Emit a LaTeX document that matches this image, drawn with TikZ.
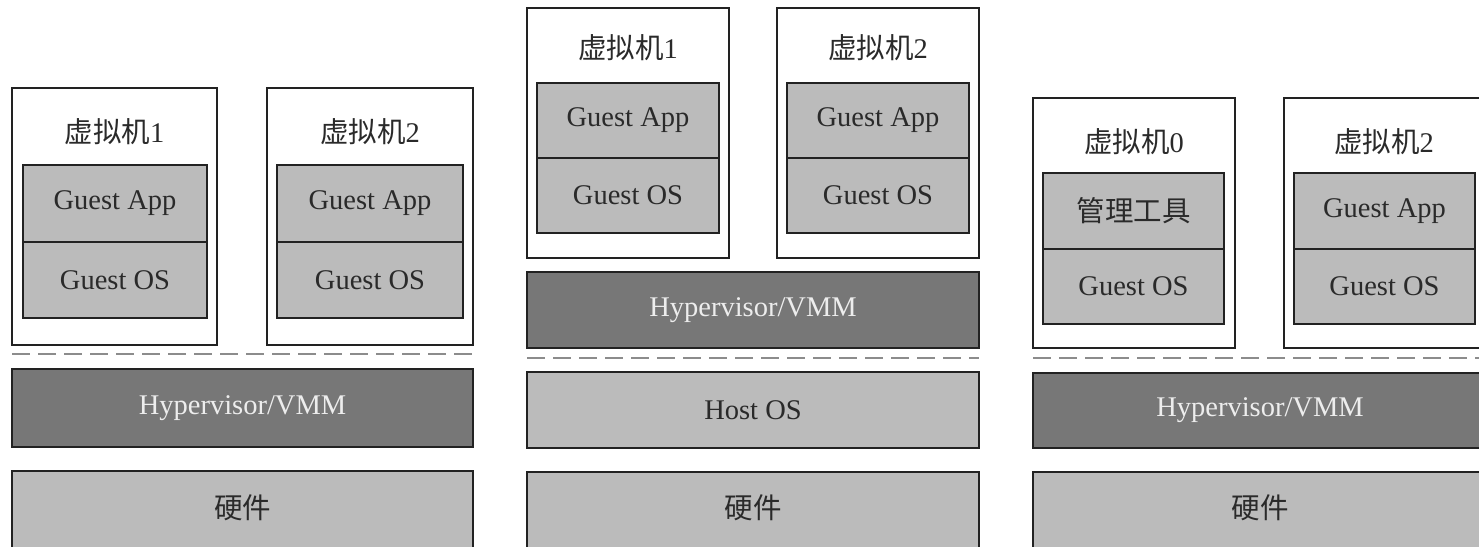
\documentclass[tikz,border=0pt]{standalone}
\usepackage{fontspec}
\setmainfont{Liberation Serif}
\newfontfamily\cjk{Noto Sans CJK SC}
\definecolor{lightbox}{HTML}{BBBBBB}
\definecolor{darkbox}{HTML}{777777}
\definecolor{edge}{HTML}{222222}
\definecolor{txt}{HTML}{2A2A2A}
\definecolor{dashcol}{HTML}{8C8C8C}
\begin{document}
\begin{tikzpicture}[x=1pt,y=-1pt,
  base/.style={anchor=north west,inner sep=0pt,outer sep=0pt,draw=edge,line width=2.2pt,
    font=\fontsize{28.5}{34}\selectfont,text=txt},
  vmbox/.style={base,fill=white},
  lightlayer/.style={base,fill=lightbox},
  darklayer/.style={base,fill=darkbox,text=white!93!black},
  vmlabel/.style={inner sep=0pt,font=\fontsize{28.5}{34}\selectfont,text=txt},
  sepline/.style={draw=dashcol,line width=2pt,dash pattern=on 18pt off 8pt}
]
\useasboundingbox (0,0) rectangle (1479,546);
\clip (0,0) rectangle (1479,546);
% ---------- Panel 1 ----------
\node[vmbox,minimum width=205pt,minimum height=257pt] (p1vm1) at (12,88) {};
\node[vmlabel] (p1l1) at (114.5,132) {{\cjk 虚拟机}1};
\node[lightlayer,minimum width=184pt,minimum height=77pt] (p1app1) at (23,165) {Guest App};
\node[lightlayer,minimum width=184pt,minimum height=76pt] (p1os1) at (23,242) {Guest OS};
\node[vmbox,minimum width=206pt,minimum height=257pt] (p1vm2) at (267,88) {};
\node[vmlabel] (p1l2) at (370,132) {{\cjk 虚拟机}2};
\node[lightlayer,minimum width=186pt,minimum height=77pt] (p1app2) at (277,165) {Guest App};
\node[lightlayer,minimum width=186pt,minimum height=76pt] (p1os2) at (277,242) {Guest OS};
\coordinate (p1da) at (12,354);
\coordinate (p1db) at (473,354);
\draw[sepline] (p1da) -- (p1db);
\node[darklayer,minimum width=461pt,minimum height=78pt] (p1hyp) at (12,369) {Hypervisor/VMM};
\node[lightlayer,minimum width=461pt,minimum height=100pt] (p1hw) at (12,471) {};
\node[vmlabel] (p1hwl) at (242.5,508) {\cjk 硬件};
% ---------- Panel 2 ----------
\node[vmbox,minimum width=202pt,minimum height=250pt] (p2vm1) at (527,8) {};
\node[vmlabel] (p2l1) at (628,48) {{\cjk 虚拟机}1};
\node[lightlayer,minimum width=182pt,minimum height=75pt] (p2app1) at (537,83) {Guest App};
\node[lightlayer,minimum width=182pt,minimum height=75pt] (p2os1) at (537,158) {Guest OS};
\node[vmbox,minimum width=202pt,minimum height=250pt] (p2vm2) at (777,8) {};
\node[vmlabel] (p2l2) at (878,48) {{\cjk 虚拟机}2};
\node[lightlayer,minimum width=182pt,minimum height=75pt] (p2app2) at (787,83) {Guest App};
\node[lightlayer,minimum width=182pt,minimum height=75pt] (p2os2) at (787,158) {Guest OS};
\node[darklayer,minimum width=452pt,minimum height=76pt] (p2hyp) at (527,272) {Hypervisor/VMM};
\coordinate (p2da) at (527,358);
\coordinate (p2db) at (979,358);
\draw[sepline] (p2da) -- (p2db);
\node[lightlayer,minimum width=452pt,minimum height=76pt] (p2host) at (527,372) {Host OS};
\node[lightlayer,minimum width=452pt,minimum height=100pt] (p2hw) at (527,472) {};
\node[vmlabel] (p2hwl) at (753,508) {\cjk 硬件};
% ---------- Panel 3 ----------
\node[vmbox,minimum width=202pt,minimum height=250pt] (p3vm0) at (1033,98) {};
\node[vmlabel] (p3l0) at (1134,142) {{\cjk 虚拟机}0};
\node[lightlayer,minimum width=181pt,minimum height=76pt] (p3tool) at (1043,173) {\cjk 管理工具};
\node[lightlayer,minimum width=181pt,minimum height=75pt] (p3os0) at (1043,249) {Guest OS};
\node[vmbox,minimum width=230pt,minimum height=250pt] (p3vm2) at (1284,98) {};
\node[vmlabel] (p3l2) at (1384,142) {{\cjk 虚拟机}2};
\node[lightlayer,minimum width=181pt,minimum height=76pt] (p3app2) at (1294,173) {Guest App};
\node[lightlayer,minimum width=181pt,minimum height=75pt] (p3os2) at (1294,249) {Guest OS};
\coordinate (p3da) at (1033,358);
\coordinate (p3db) at (1479,358);
\draw[sepline] (p3da) -- (p3db);
\node[darklayer,minimum width=520pt,minimum height=75pt] (p3hyp) at (1033,373) {};
\node[vmlabel,text=white!93!black] (p3hypl) at (1260,410.5) {Hypervisor/VMM};
\node[lightlayer,minimum width=520pt,minimum height=100pt] (p3hw) at (1033,472) {};
\node[vmlabel] (p3hwl) at (1260,508) {\cjk 硬件};
\end{tikzpicture}
\end{document}
